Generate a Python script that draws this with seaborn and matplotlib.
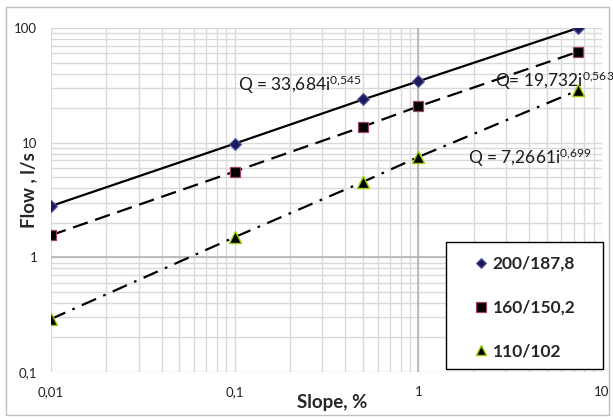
import matplotlib
matplotlib.use("Agg")
import matplotlib.pyplot as plt
import seaborn as sns
import pandas as pd
from matplotlib.lines import Line2D
from matplotlib.patches import Rectangle
from matplotlib.ticker import FixedLocator, LogLocator, NullFormatter

# ---- data ----
slope = [0.01, 0.1, 0.5, 1, 7.4]
flow_200 = [2.8, 9.8, 23.8, 34.3, 100]
flow_160 = [1.56, 5.6, 13.8, 20.7, 62]
flow_110 = [0.29, 1.5, 4.55, 7.5, 28.6]
series_names = ["200/187,8", "160/150,2", "110/102"]
x_ticks = [0.01, 0.1, 1, 10]
x_tick_labels = ["0,01", "0,1", "1", "10"]
y_ticks = [0.1, 1, 10, 100]
y_tick_labels = ["0,1", "1", "10", "100"]
equations = [("Q = 33,684i", "0,545"), ("Q= 19,732i", "0,563"), ("Q = 7,2661i", "0,699")]

sns.set_style("white")
plt.rcParams["font.family"] = ["Lato", "DejaVu Sans"]
plt.rcParams["mathtext.fontset"] = "custom"
plt.rcParams["mathtext.rm"] = "Lato"
plt.rcParams["mathtext.it"] = "Lato"

fig = plt.figure(figsize=(6.13, 4.19), dpi=100)
ax = fig.add_axes([51/613, 1-372/419, (602-51)/613, (372-28)/419])

ax.set_xscale("log")
ax.set_yscale("log")
ax.set_xlim(0.01, 10)
ax.set_ylim(0.1, 100)

grid_c = "#d9d9d9"
ax.xaxis.set_major_locator(FixedLocator(x_ticks))
ax.yaxis.set_major_locator(FixedLocator(y_ticks))
ax.xaxis.set_minor_locator(LogLocator(base=10, subs=range(2, 10)))
ax.yaxis.set_minor_locator(LogLocator(base=10, subs=range(2, 10)))
ax.xaxis.set_minor_formatter(NullFormatter())
ax.yaxis.set_minor_formatter(NullFormatter())
ax.set_xticklabels(x_tick_labels)
ax.set_yticklabels(y_tick_labels)
ax.grid(True, which="both", color=grid_c, lw=1.0)
ax.set_axisbelow(True)
ax.tick_params(which="both", length=0)
ax.tick_params(axis="x", labelsize=9.5, pad=10, colors="#222222")
ax.tick_params(axis="y", labelsize=9.5, pad=10, colors="#222222")
for s in ax.spines.values():
    s.set_visible(False)

# axis crossing lines (Excel style)
ax.axhline(1, color="#b0b0b0", lw=1.1, zorder=1)
ax.axvline(1, color="#b0b0b0", lw=1.1, zorder=1)

df200 = pd.DataFrame({"slope": slope, "flow": flow_200})
df160 = pd.DataFrame({"slope": slope, "flow": flow_160})
df110 = pd.DataFrame({"slope": slope, "flow": flow_110})

lw = 1.6
sns.lineplot(data=df200, x="slope", y="flow", ax=ax, color="black", lw=lw,
             marker="D", markersize=6.5, markerfacecolor="#1c1c5c", markeredgecolor="#5a5aa8",
             markeredgewidth=0.8, zorder=3)
sns.lineplot(data=df160, x="slope", y="flow", ax=ax, color="black", lw=lw,
             marker="s", markersize=7, markerfacecolor="black", markeredgecolor="#a04070",
             markeredgewidth=0.9, zorder=3)
sns.lineplot(data=df110, x="slope", y="flow", ax=ax, color="black", lw=lw,
             marker="^", markersize=8, markerfacecolor="black", markeredgecolor="#99cc00",
             markeredgewidth=1.0, zorder=3)
ax.lines[-2].set_dashes((7, 3.5))
ax.lines[-1].set_dashes((7, 3.5, 1.2, 3.5))

# equations (figure pixel placement converted to fractions)
eq_pos = [(238, 91), (495, 87), (468, 164)]
for (txt, sup), (px, py) in zip(equations, eq_pos):
    fig.text(px/613, 1-py/419, txt + r"$^{" + sup.replace(",", "{,}") + r"}$",
             fontsize=12.5, color="#1a1a1a", ha="left", va="baseline")

ax.set_xlabel("Slope, %", fontsize=13.5, fontweight="bold", labelpad=2)
ax.set_ylabel("Flow , l/s", fontsize=13.5, fontweight="bold", labelpad=2)
ax.xaxis.set_label_coords((332-51)/(602-51), -(394-372)/(372-28))
ax.yaxis.set_label_coords(-(51-37)/(602-51), (372-190)/(372-28))

# legend frame and entries
fig.patches.append(Rectangle((446/613, 1-369/419), (603-446)/613, (369-242)/419,
                             transform=fig.transFigure, facecolor="white",
                             edgecolor="black", lw=1.0, zorder=5))
handles = [
    Line2D([], [], ls="none", marker="D", markersize=5, markerfacecolor="#1c1c5c",
           markeredgecolor="#5a5aa8", markeredgewidth=0.8),
    Line2D([], [], ls="none", marker="s", markersize=7, markerfacecolor="black",
           markeredgecolor="#a04070", markeredgewidth=0.9),
    Line2D([], [], ls="none", marker="^", markersize=7, markerfacecolor="black",
           markeredgecolor="#99cc00", markeredgewidth=1.0),
]
leg = fig.legend(handles, series_names, loc="upper left",
                 bbox_to_anchor=(472/613, 1-256/419), frameon=False,
                 prop={"size": 12.5, "weight": "bold"}, handlelength=1.0,
                 handletextpad=0.2, labelspacing=1.6, borderpad=0, borderaxespad=0)
leg.set_zorder(6)

# outer chart border
fig.patches.append(Rectangle((6/613, 1-415/419), (609-6)/613, (415-7)/419,
                             transform=fig.transFigure, facecolor="none",
                             edgecolor="#bfbfbf", lw=1.0, zorder=0))

fig.savefig("out.png", dpi=100)
